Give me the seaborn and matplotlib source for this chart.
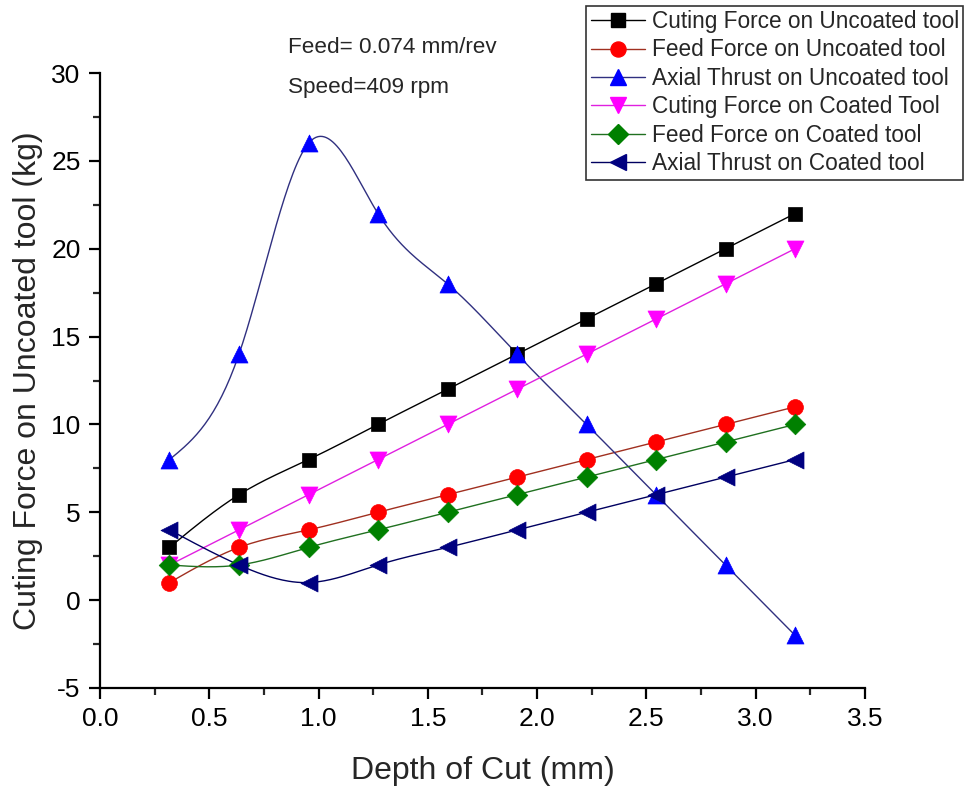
import numpy as np
import pandas as pd
import matplotlib
matplotlib.use('Agg')
import matplotlib.pyplot as plt
from matplotlib.lines import Line2D
from matplotlib.ticker import MultipleLocator, FormatStrFormatter
import seaborn as sns

depth = [0.318, 0.636, 0.954, 1.272, 1.59, 1.908, 2.226, 2.544, 2.862, 3.18]

cut_uncoated = [3, 6, 8, 10, 12, 14, 16, 18, 20, 22]
feed_uncoated = [1, 3, 4, 5, 6, 7, 8, 9, 10, 11]
axial_uncoated = [8, 14, 26, 22, 18, 14, 10, 6, 2, -2]
cut_coated = [2, 4, 6, 8, 10, 12, 14, 16, 18, 20]
feed_coated = [2, 2, 3, 4, 5, 6, 7, 8, 9, 10]
axial_coated = [4, 2, 1, 2, 3, 4, 5, 6, 7, 8]

labels = ['Cuting Force on Uncoated tool', 'Feed Force on Uncoated tool',
          'Axial Thrust on Uncoated tool', 'Cuting Force on Coated Tool',
          'Feed Force on Coated tool', 'Axial Thrust on Coated tool']
values = [cut_uncoated, feed_uncoated, axial_uncoated, cut_coated, feed_coated, axial_coated]
marker_colors = ['#000000', '#ff0000', '#0000ff', '#ff00ff', '#008000', '#000080']
line_colors = ['#000000', '#a03020', '#303080', '#e020e0', '#207020', '#000060']
markers = ['s', 'o', '^', 'v', 'D', '<']
msizes = [110, 130, 150, 150, 110, 150]


def spline_curve(x, y, n=300):
    # natural cubic spline, only used to draw the smooth connecting line
    x = np.asarray(x, float)
    y = np.asarray(y, float)
    k = len(x)
    h = np.diff(x)
    A = np.zeros((k, k))
    b = np.zeros(k)
    A[0, 0] = A[-1, -1] = 1
    for i in range(1, k - 1):
        A[i, i - 1] = h[i - 1]
        A[i, i] = 2 * (h[i - 1] + h[i])
        A[i, i + 1] = h[i]
        b[i] = 6 * ((y[i + 1] - y[i]) / h[i] - (y[i] - y[i - 1]) / h[i - 1])
    m = np.linalg.solve(A, b)
    xs = np.linspace(x[0], x[-1], n)
    idx = np.clip(np.searchsorted(x, xs) - 1, 0, k - 2)
    x0, x1 = x[idx], x[idx + 1]
    hh = x1 - x0
    t0 = x1 - xs
    t1 = xs - x0
    ys = (m[idx] * t0 ** 3 / (6 * hh) + m[idx + 1] * t1 ** 3 / (6 * hh)
          + (y[idx] / hh - m[idx] * hh / 6) * t0 + (y[idx + 1] / hh - m[idx + 1] * hh / 6) * t1)
    return xs, ys


sns.set_style('white')
plt.rcParams['font.family'] = ['Liberation Sans', 'DejaVu Sans']
plt.rcParams['axes.unicode_minus'] = False

fig = plt.figure(figsize=(9.67, 7.86), dpi=100)
ax = fig.add_axes([0.1034, 0.1247, 0.7911, 0.7824])

handles = []
for lab, vals, mc, lc, mk, ms in zip(labels, values, marker_colors, line_colors, markers, msizes):
    xs, ys = spline_curve(depth, vals)
    ax.plot(xs, ys, color=lc, lw=1.0, zorder=2)
    df = pd.DataFrame({'depth': depth, 'force': vals})
    sns.scatterplot(data=df, x='depth', y='force', ax=ax, marker=mk, s=ms,
                    color=mc, edgecolor=mc, linewidth=0.5, zorder=3, legend=False)
    handles.append(Line2D([0], [0], color=lc, lw=1.0, marker=mk, markersize=np.sqrt(ms) * 0.95,
                          markerfacecolor=mc, markeredgecolor=mc))

ax.set_xlim(0, 3.5)
ax.set_ylim(-5, 30)
ax.xaxis.set_major_locator(MultipleLocator(0.5))
ax.xaxis.set_minor_locator(MultipleLocator(0.25))
ax.yaxis.set_major_locator(MultipleLocator(5))
ax.yaxis.set_minor_locator(MultipleLocator(2.5))
ax.xaxis.set_major_formatter(FormatStrFormatter('%.1f'))

for s in ['top', 'right']:
    ax.spines[s].set_visible(False)
for s in ['left', 'bottom']:
    ax.spines[s].set_linewidth(1.6)
    ax.spines[s].set_color('black')

ax.tick_params(which='major', direction='out', length=8, width=1.6, labelsize=19,
               pad=6, bottom=True, left=True, colors='black')
ax.tick_params(which='minor', direction='out', length=5, width=1.6, bottom=True, left=True)

ax.set_xlabel('Depth of Cut (mm)', fontsize=23, labelpad=18)
ax.set_ylabel('Cuting Force on Uncoated tool (kg)', fontsize=23, labelpad=6)

fig.text(0.298, 0.94, 'Feed= 0.074 mm/rev', fontsize=16.2, va='center', ha='left')
fig.text(0.298, 0.889, 'Speed=409 rpm', fontsize=16.2, va='center', ha='left')

leg = fig.legend(handles, labels, loc='upper left', bbox_to_anchor=(0.606, 0.993),
                 fontsize=16.3, frameon=True, fancybox=False, edgecolor='black',
                 handlelength=2.4, handletextpad=0.3, labelspacing=0.24,
                 borderpad=0.2, borderaxespad=0)
leg.get_frame().set_linewidth(1.2)

fig.savefig('out.png', dpi=100)
